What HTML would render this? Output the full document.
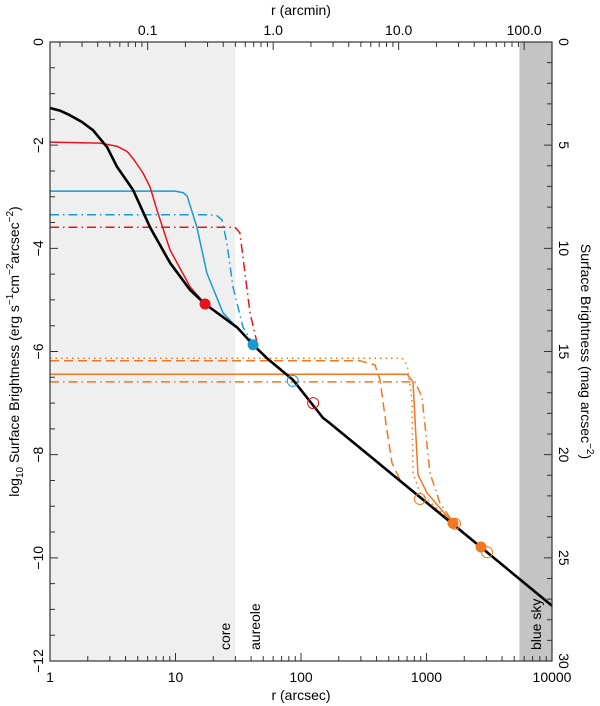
<!DOCTYPE html>
<html><head><meta charset="utf-8">
<style>
html,body{margin:0;padding:0;background:#fff;}
svg{display:block;font-family:"Liberation Sans",sans-serif;}
</style></head>
<body>
<svg id="chart" width="600" height="706" viewBox="0 0 600 706" xmlns="http://www.w3.org/2000/svg">
<g id="bg"></g>
<g id="series"></g>
<g id="axes"></g>
</svg>
<script>
// ---- data ----
const blackR = [1,1.2,1.44,1.8,2.2,2.85,3.42,4.59,6.26,9.04,13.1,17.2,30.9,41.5,53.6,86.3,150,170,1849,10000];
const blackV = [-1.28,-1.33,-1.42,-1.55,-1.71,-2.04,-2.42,-2.87,-3.59,-4.28,-4.81,-5.08,-5.53,-5.87,-6.13,-6.55,-7.29,-7.39,-9.46,-10.93];
const redSolidR = [1,2.5,3.42,4.11,4.59,5.51,6.26,7.12,9.04,13.1,17.2];
const redSolidV = [-1.94,-1.96,-2.02,-2.12,-2.26,-2.54,-2.81,-3.26,-4.03,-4.75,-5.08];
const blueSolidR = [1,9.9,11.5,12.4,14.8,17.8,23.9,41.5];
const blueSolidV = [-2.89,-2.89,-2.92,-2.99,-3.59,-4.48,-5.25,-5.87];
const blueDashDotR = [1,18.8,21.5,23.5,25.7,28.7,34.5,43];
const blueDashDotV = [-3.35,-3.35,-3.37,-3.45,-3.90,-4.75,-5.53,-5.91];
const redDashDotR = [1,29.8,32.6,35.8,39.2,45.4];
const redDashDotV = [-3.59,-3.59,-3.70,-4.48,-5.25,-5.91];
const orDotR = [1,638,700,766,780,887,1626];
const orDotV = [-6.13,-6.13,-6.26,-6.94,-8.36,-8.74,-9.33];
const orDashR = [1,295,389,426,484,531,615,887];
const orDashV = [-6.18,-6.18,-6.26,-6.55,-7.52,-8.16,-8.49,-8.84];
const orSolidR = [1,700,780,855,1009,1626];
const orSolidV = [-6.44,-6.44,-6.59,-8.39,-8.74,-9.33];
const orDashDotR = [1,809,920,1066,1280,1626];
const orDashDotV = [-6.59,-6.59,-6.88,-8.36,-8.94,-9.31];
const markerR = [17.2,41.5,125,86,887,1687,1626,2718,3034];
const markerV = [-5.08,-5.87,-7.0,-6.57,-8.86,-9.34,-9.33,-9.79,-9.89];
const markerKind = ['red-filled','blue-filled','red-open','blue-open','orange-open','orange-open','orange-filled','orange-filled','orange-open'];
const bottomTicks = [1,10,100,1000,10000];
const bottomLabels = ['1','10','100','1000','10000'];
const topTicks = [0.1,1,10,100];
const topLabels = ['0.1','1.0','10.0','100.0'];
const leftTicks = [0,-2,-4,-6,-8,-10,-12];
const leftLabels = ['0','\u22122','\u22124','\u22126','\u22128','\u221210','\u221212'];
const rightTicks = [0,5,10,15,20,25,30];
const rightLabels = ['0','5','10','15','20','25','30'];
const coreLimit = 30, skyLimit = 5500;

// ---- scales ----
const L=50,R=552,T=42,B=661;
const X = r => L + (R-L)*Math.log10(r)/4;
const Y = v => T + (B-T)*(-v)/12;
const Ym = m => T + (B-T)*m/30;
const NS='http://www.w3.org/2000/svg';
function mk(tag, parent, attrs){const e=document.createElementNS(NS,tag);for(const k in attrs)e.setAttribute(k,attrs[k]);parent.appendChild(e);return e;}
const bg=document.getElementById('bg'), ser=document.getElementById('series'), ax=document.getElementById('axes');

let e=mk('rect',bg,{x:L,y:T,width:X(coreLimit)-L,height:B-T,fill:'#efefef'});


e=mk('rect',bg,{x:X(skyLimit),y:T,width:R-X(skyLimit),height:B-T,fill:'#c4c4c4'});



const series=[
 ['orange-dotted',orDotR,orDotV,'#f07820','1.5','1.5 4'],
 ['orange-dashed',orDashR,orDashV,'#f07820','1.5','9 5'],
 ['orange-solid',orSolidR,orSolidV,'#f07820','1.5',''],
 ['orange-dash-dot',orDashDotR,orDashDotV,'#f07820','1.5','9 4 1.5 4'],
 ['red-dash-dot',redDashDotR,redDashDotV,'#e8141c','1.5','9 4 1.5 4'],
 ['blue-dash-dot',blueDashDotR,blueDashDotV,'#1a9ad0','1.5','9 4 1.5 4'],
 ['blue-solid',blueSolidR,blueSolidV,'#1a9ad0','1.5',''],
 ['red-solid',redSolidR,redSolidV,'#e8141c','1.5',''],
 ['black-profile',blackR,blackV,'#000','2.6','']
];
for(const [n,rs,vs,c,w,d] of series){
  const pts=rs.map((r,i)=>X(r).toFixed(1)+','+Y(vs[i]).toFixed(1)).join(' ');
  const p=mk('polyline',ser,{points:pts,fill:'none',stroke:c,'stroke-width':w,'stroke-linejoin':'round'});
  if(d)p.setAttribute('stroke-dasharray',d);
  
  
}
const cols={red:'#e8141c',blue:'#1a9ad0',orange:'#f07820'};
markerR.forEach((r,i)=>{
  const [c,k]=markerKind[i].split('-');
  const filled=k==='filled';
  const m=mk('circle',ser,{cx:X(r),cy:Y(markerV[i]),r:filled?5:5.5,fill:filled?cols[c]:'none',stroke:cols[c],'stroke-width':1});
  
  
});

// annotations
function rtext(x,y,txt,name,anchor){
  const t=mk('text',ax,{x:0,y:0,'font-size':14,'text-anchor':anchor||'start',transform:`translate(${x},${y}) rotate(-90)`});
  t.textContent=txt;
  
  
  return t;
}
rtext(230,650,'core','core-label');
rtext(260,650,'aureole','aureole-label');
rtext(541,650,'blue sky','blue-sky-label');

// frame
e=mk('rect',ax,{x:L,y:T,width:R-L,height:B-T,fill:'none',stroke:'#333','stroke-width':1.2});



// ticks
let tp='';
for(let d=0;d<4;d++)for(let k=1;k<10;k++){const x=X(Math.pow(10,d)*k);const len=k===1?8:5;tp+=`M${x},${B}v${-len}`;}
tp+=`M${X(10000)},${B}v-8`;
for(let d=-2;d<3;d++)for(let k=1;k<10;k++){const am=Math.pow(10,d)*k;const r=am*60;if(r<1||r>10000)continue;const x=X(r);const len=k===1?8:5;tp+=`M${x},${T}v${len}`;}
for(let v=0;v>=-12;v-=0.5){const len=(v%2===0)?8:5;tp+=`M${L},${Y(v)}h${len}`;}
for(let m=0;m<=30;m++){const len=(m%5===0)?8:5;tp+=`M${R},${Ym(m)}h${-len}`;}
e=mk('path',ax,{d:tp,stroke:'#333','stroke-width':1,fill:'none'});



bottomTicks.forEach((r,i)=>{const t=mk('text',ax,{x:X(r),y:682,'font-size':14,'text-anchor':'middle'});t.textContent=bottomLabels[i];

});
topTicks.forEach((am,i)=>{const t=mk('text',ax,{x:X(am*60),y:35,'font-size':14,'text-anchor':'middle'});t.textContent=topLabels[i];

});
leftTicks.forEach((v,i)=>{const t=mk('text',ax,{x:0,y:0,'font-size':14,'text-anchor':'middle',transform:`translate(43,${Y(v)}) rotate(-90)`});t.textContent=leftLabels[i];

});
rightTicks.forEach((m,i)=>{const t=mk('text',ax,{x:0,y:0,'font-size':14,'text-anchor':'middle',transform:`translate(559,${Ym(m)}) rotate(90)`});t.textContent=rightLabels[i];

});

let t=mk('text',ax,{x:(L+R)/2,y:700,'font-size':14,'text-anchor':'middle'});t.textContent='r (arcsec)';


t=mk('text',ax,{x:(L+R)/2,y:15,'font-size':14,'text-anchor':'middle'});t.textContent='r (arcmin)';


t=mk('text',ax,{x:0,y:0,'font-size':14,'text-anchor':'middle',transform:`translate(19,${(T+B)/2}) rotate(-90)`});
t.innerHTML='log<tspan font-size="10" dy="4">10</tspan><tspan dy="-4"> Surface Brightness (erg s</tspan><tspan font-size="10" dy="-6">\u22121</tspan><tspan dy="6">cm</tspan><tspan font-size="10" dy="-6">\u22122</tspan><tspan dy="6">arcsec</tspan><tspan font-size="10" dy="-6">\u22122</tspan><tspan dy="6">)</tspan>';


t=mk('text',ax,{x:0,y:0,'font-size':14,'text-anchor':'middle',transform:`translate(581,${(T+B)/2}) rotate(90)`});
t.innerHTML='Surface Brightness (mag arcsec<tspan font-size="10" dy="-6">\u22122</tspan><tspan dy="6">)</tspan>';


</script>
</body></html>
